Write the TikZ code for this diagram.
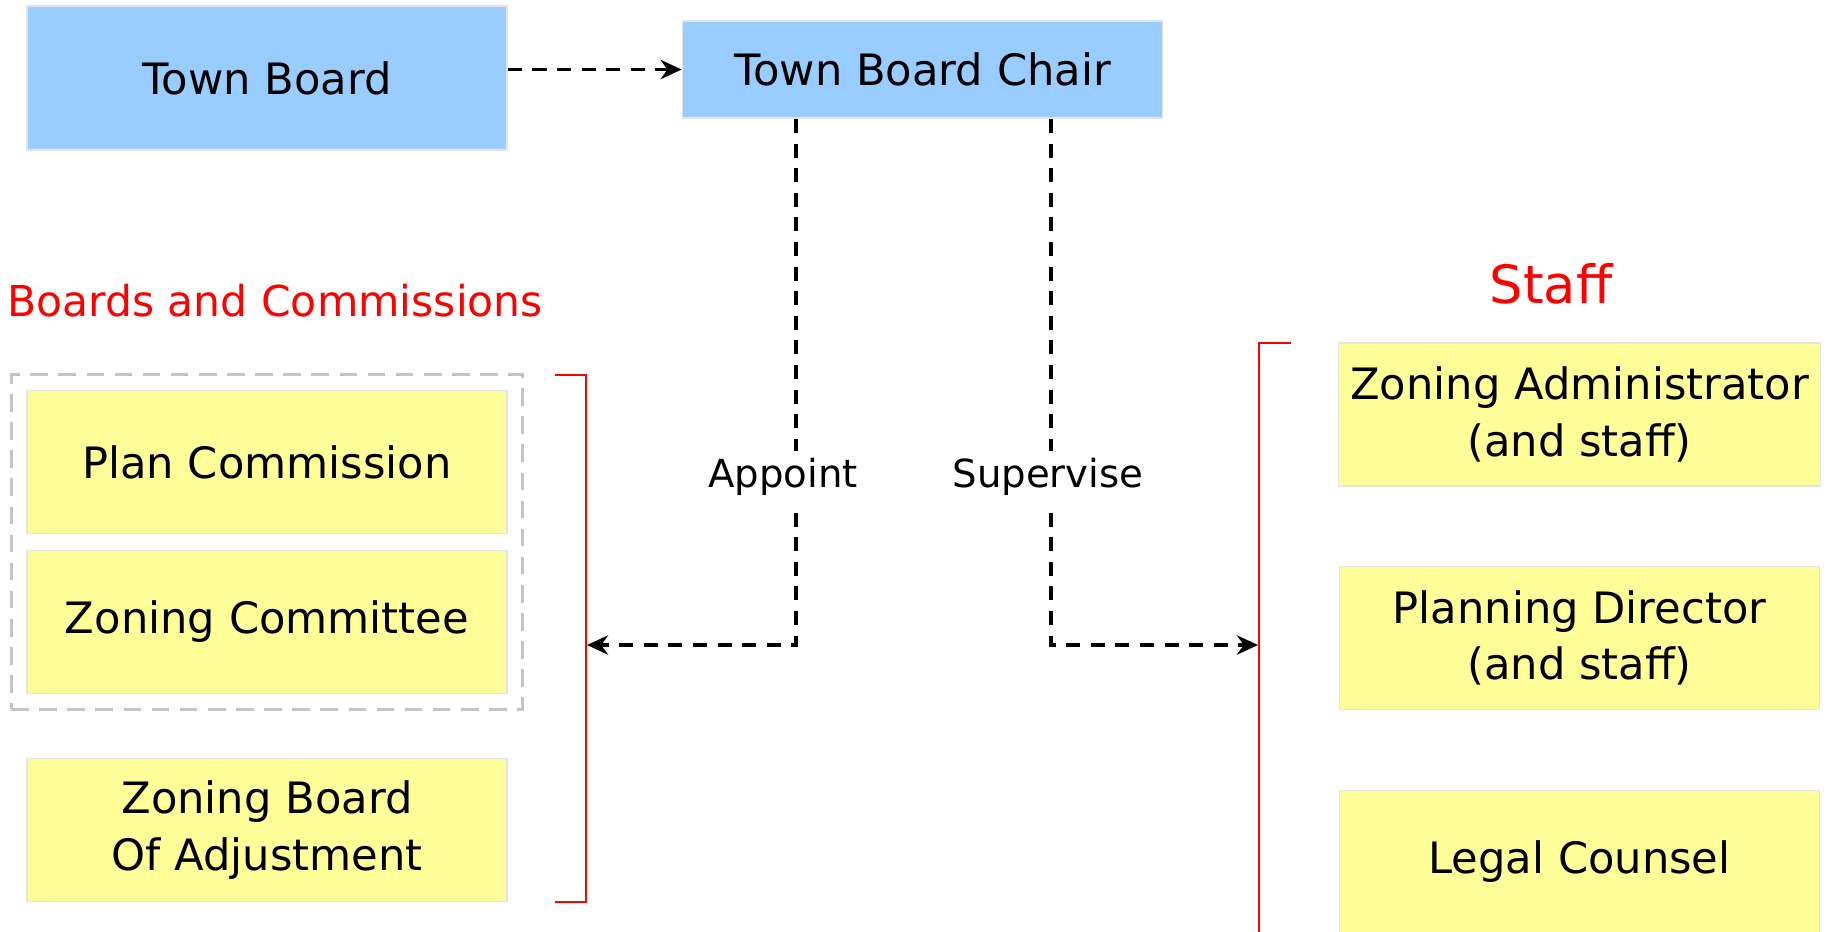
\documentclass[tikz,border=0pt]{standalone}
\usepackage{fontspec}
\setmainfont{DejaVu Sans}
\usetikzlibrary{arrows.meta,fit}
\definecolor{boardblue}{HTML}{99CCFF}
\definecolor{noteyellow}{HTML}{FFFF99}
\definecolor{edgegray}{HTML}{E4E4E4}
\definecolor{groupgray}{HTML}{C4C4C4}

\begin{document}
\begin{tikzpicture}[
  bluebox/.style={draw=edgegray,line width=0.5pt,fill=boardblue,minimum width=4.8cm,align=center,font=\fontsize{12.3}{16}\selectfont},
  yellowbox/.style={draw=edgegray,line width=0.5pt,fill=noteyellow,minimum width=4.8cm,minimum height=1.43cm,align=center,font=\fontsize{12.3}{16}\selectfont},
  link/.style={line width=0.9pt,dash pattern=on 4pt off 3pt,-{Stealth[length=6pt,width=5.5pt]}},
  bracket/.style={red,line width=0.6pt},
  heading/.style={red,font=\fontsize{12.1}{15}\selectfont}]
  \useasboundingbox[fill=white] (0,0) rectangle (18.35,-9.31);

  % top row
  \node[bluebox,minimum height=1.44cm] (tb) at (2.67,-0.78) {Town Board};
  \node[bluebox,minimum height=0.97cm] (tbc) at (9.225,-0.695) {Town Board Chair};
  \draw[link] (tb.east |- tbc.west) -- (tbc.west);

  % boards and commissions
  \node[heading] (bchead) at (2.75,-3.01) {Boards and Commissions};
  \node[yellowbox] (pc) at (2.67,-4.62) {Plan Commission};
  \node[yellowbox] (zc) at (2.67,-6.22) {Zoning Committee};
  \node[yellowbox] (zba) at (2.67,-8.30) {Zoning Board\\Of Adjustment};
  \node[draw=groupgray,line width=0.8pt,dash pattern=on 5pt off 3pt,inner sep=0.15cm,fit=(pc)(zc)] (grp) {};
  \draw[bracket] (5.55,-3.75) -- (5.86,-3.75) -- (5.86,-9.02) -- (5.55,-9.02);

  % staff
  \node[heading,font=\fontsize{15}{18}\selectfont] (sthead) at (15.51,-2.84) {Staff};
  \node[yellowbox] (za) at (15.795,-4.145) {Zoning Administrator\\(and staff)};
  \node[yellowbox] (pd) at (15.795,-6.38) {Planning Director\\(and staff)};
  \node[yellowbox] (lc) at (15.795,-8.62) {Legal Counsel};
  \draw[bracket] (12.91,-3.43) -- (12.59,-3.43) -- (12.59,-9.5);

  % appoint / supervise
  \coordinate (lbrk) at (5.87,-6.45);
  \coordinate (rbrk) at (12.58,-6.45);
  \draw[link] ([xshift=-1.265cm]tbc.south) |- node[pos=0.34,xshift=-0.13cm,fill=white,inner sep=2pt,font=\fontsize{11}{13}\selectfont] (apt) {Appoint} (lbrk);
  \draw[link] ([xshift=1.285cm]tbc.south) |- node[pos=0.34,xshift=-0.03cm,fill=white,inner sep=2pt,font=\fontsize{11}{13}\selectfont] (sup) {Supervise} (rbrk);
\end{tikzpicture}
\end{document}
